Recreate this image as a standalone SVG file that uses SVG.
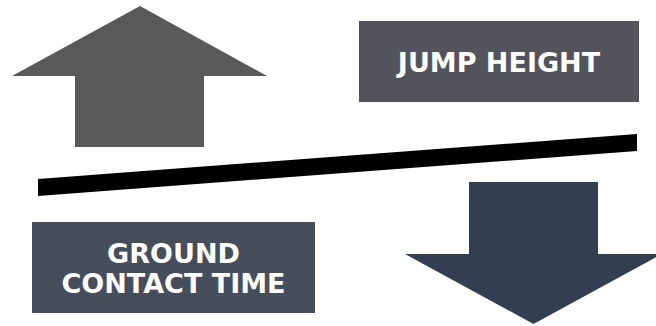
<svg xmlns="http://www.w3.org/2000/svg" width="656" height="326" viewBox="0 0 656 326">
  <style>
    .lbl { font-family: "DejaVu Sans", Verdana, sans-serif; font-weight: bold; font-size: 27px; fill: #ffffff; text-anchor: middle; }
  </style>
  <rect width="656" height="326" fill="#ffffff"/>
  <g id="up-arrow">
    <polygon points="140,6 267,76 204,76 204,147 75,147 75,76 12,76" fill="#595959"/>
  </g>
  <g id="jump-height">
    <rect x="359" y="21" width="280" height="81" fill="#53535b"/>
    <text class="lbl" x="499" y="72">JUMP HEIGHT</text>
  </g>
  <g id="connectors">
    <polygon points="38,179 637,134 637,151 38,196" fill="#000000"/>
  </g>
  <g id="ground-contact-time">
    <rect x="32" y="222" width="283" height="91" fill="#464e5b"/>
    <text class="lbl" x="173.5" y="263">GROUND</text>
    <text class="lbl" x="173.5" y="293">CONTACT TIME</text>
  </g>
  <g id="down-arrow">
    <polygon points="469,182 598,182 598,254 662,254 533.5,324 405,254 469,254" fill="#333e50"/>
  </g>
</svg>
